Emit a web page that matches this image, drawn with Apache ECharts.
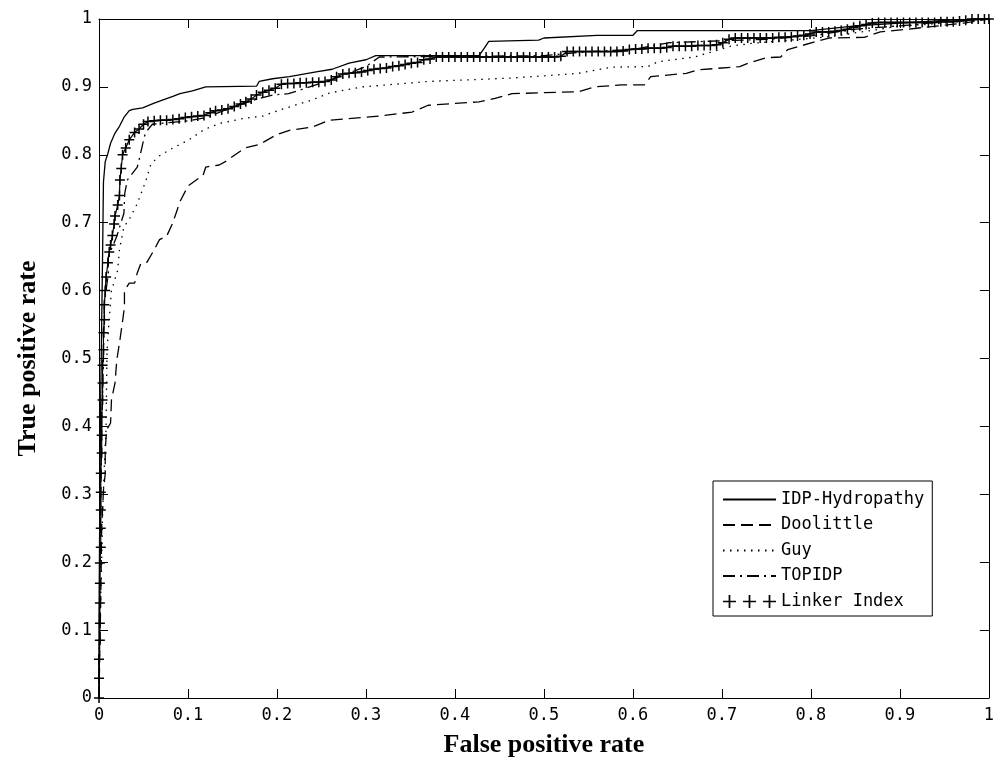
<!DOCTYPE html>
<html>
<head>
<meta charset="utf-8">
<script src="https://cdn.jsdelivr.net/npm/echarts@6/dist/echarts.min.js"></script>
<style>html,body{margin:0;padding:0;background:#fff;}#c{width:997px;height:766px;}</style>
</head>
<body>
<div id="c"></div>
<script>
const xTicks = [0,0.1,0.2,0.3,0.4,0.5,0.6,0.7,0.8,0.9,1];
const yTicks = [0,0.1,0.2,0.3,0.4,0.5,0.6,0.7,0.8,0.9,1];
const seriesNames = ['IDP-Hydropathy','Doolittle','Guy','TOPIDP','Linker Index'];

const idpHydropathy = [[0,0],[0,0.12],[0.001,0.3],[0.002,0.45],[0.003,0.55],[0.004,0.65],[0.005,0.76],[0.007,0.79],[0.01,0.802],[0.013,0.817],[0.018,0.832],[0.023,0.842],[0.028,0.855],[0.034,0.865],[0.038,0.867],[0.049,0.869],[0.062,0.876],[0.072,0.881],[0.083,0.886],[0.091,0.89],[0.105,0.894],[0.12,0.9],[0.177,0.901],[0.18,0.908],[0.195,0.912],[0.214,0.915],[0.244,0.922],[0.262,0.926],[0.281,0.935],[0.3,0.94],[0.311,0.946],[0.427,0.946],[0.433,0.957],[0.438,0.967],[0.494,0.969],[0.5,0.972],[0.56,0.976],[0.6,0.976],[0.605,0.983],[0.8,0.983],[0.85,0.99],[0.9,0.994],[0.95,0.998],[1,1]];

const doolittle = [[0,0],[0.002,0.15],[0.003,0.25],[0.005,0.306],[0.007,0.33],[0.007,0.365],[0.0086,0.395],[0.013,0.405],[0.014,0.439],[0.018,0.464],[0.02,0.498],[0.0235,0.527],[0.027,0.56],[0.0286,0.576],[0.0286,0.6],[0.034,0.611],[0.04,0.611],[0.043,0.626],[0.047,0.64],[0.054,0.642],[0.062,0.66],[0.068,0.675],[0.076,0.68],[0.083,0.7],[0.091,0.731],[0.1,0.754],[0.117,0.77],[0.12,0.782],[0.135,0.785],[0.142,0.79],[0.164,0.81],[0.18,0.815],[0.2,0.83],[0.214,0.836],[0.24,0.841],[0.259,0.851],[0.315,0.857],[0.352,0.863],[0.37,0.873],[0.427,0.878],[0.445,0.883],[0.464,0.89],[0.539,0.893],[0.557,0.9],[0.587,0.903],[0.613,0.903],[0.62,0.915],[0.66,0.92],[0.673,0.925],[0.72,0.93],[0.73,0.935],[0.75,0.943],[0.766,0.944],[0.774,0.955],[0.82,0.972],[0.86,0.973],[0.878,0.981],[0.916,0.986],[0.972,0.994],[1,1]];

const guy = [[0,0],[0.001,0.1],[0.003,0.2],[0.004,0.27],[0.006,0.34],[0.008,0.4],[0.0086,0.47],[0.009,0.51],[0.011,0.55],[0.014,0.6],[0.021,0.63],[0.023,0.66],[0.028,0.694],[0.034,0.705],[0.043,0.728],[0.053,0.763],[0.058,0.785],[0.066,0.797],[0.083,0.81],[0.101,0.822],[0.118,0.837],[0.135,0.846],[0.164,0.854],[0.184,0.857],[0.203,0.866],[0.24,0.881],[0.259,0.891],[0.296,0.9],[0.37,0.908],[0.464,0.913],[0.539,0.92],[0.576,0.929],[0.617,0.93],[0.628,0.937],[0.669,0.944],[0.71,0.96],[0.733,0.964],[0.822,0.974],[0.897,0.989],[0.97,0.996],[1,1]];

const topidp = [[0,0],[0.001,0.2],[0.003,0.4],[0.005,0.5],[0.006,0.58],[0.0105,0.626],[0.0105,0.65],[0.02,0.68],[0.028,0.714],[0.029,0.744],[0.032,0.763],[0.043,0.782],[0.045,0.792],[0.051,0.827],[0.053,0.834],[0.06,0.845],[0.1,0.85],[0.12,0.855],[0.15,0.87],[0.18,0.883],[0.195,0.888],[0.213,0.89],[0.225,0.895],[0.26,0.91],[0.3,0.93],[0.315,0.944],[0.4,0.945],[0.5,0.946],[0.55,0.952],[0.6,0.955],[0.64,0.965],[0.7,0.968],[0.75,0.97],[0.8,0.975],[0.85,0.985],[0.9,0.99],[0.95,0.996],[1,1]];

const linkerIndex = [[0,0],[0,0.029],[0,0.057],[0.001,0.085],[0.001,0.11],[0.001,0.14],[0.001,0.169],[0.001,0.199],[0.002,0.222],[0.002,0.25],[0.002,0.277],[0.002,0.303],[0.002,0.331],[0.003,0.361],[0.003,0.387],[0.003,0.414],[0.004,0.439],[0.004,0.464],[0.004,0.49],[0.005,0.513],[0.005,0.538],[0.006,0.557],[0.006,0.579],[0.007,0.6],[0.008,0.62],[0.01,0.641],[0.0115,0.657],[0.013,0.667],[0.015,0.681],[0.017,0.698],[0.018,0.71],[0.021,0.726],[0.023,0.74],[0.0235,0.763],[0.025,0.78],[0.0265,0.8],[0.03,0.81],[0.034,0.822],[0.04,0.833],[0.045,0.838],[0.05,0.845],[0.055,0.849],[0.062,0.85],[0.069,0.851],[0.076,0.851],[0.083,0.852],[0.09,0.853],[0.097,0.855],[0.104,0.856],[0.111,0.857],[0.118,0.858],[0.125,0.862],[0.131,0.865],[0.138,0.866],[0.145,0.868],[0.152,0.871],[0.159,0.875],[0.165,0.878],[0.171,0.882],[0.177,0.888],[0.184,0.892],[0.191,0.895],[0.198,0.898],[0.205,0.904],[0.212,0.905],[0.219,0.905],[0.226,0.906],[0.233,0.906],[0.24,0.907],[0.247,0.907],[0.254,0.908],[0.261,0.91],[0.267,0.915],[0.274,0.919],[0.281,0.92],[0.288,0.921],[0.295,0.922],[0.302,0.924],[0.309,0.926],[0.316,0.927],[0.323,0.928],[0.33,0.93],[0.337,0.931],[0.344,0.933],[0.351,0.935],[0.358,0.936],[0.365,0.94],[0.372,0.941],[0.379,0.944],[0.386,0.944],[0.393,0.944],[0.4,0.944],[0.407,0.944],[0.414,0.944],[0.421,0.944],[0.428,0.944],[0.435,0.944],[0.442,0.944],[0.449,0.944],[0.456,0.944],[0.463,0.944],[0.47,0.944],[0.477,0.944],[0.484,0.944],[0.491,0.944],[0.498,0.944],[0.505,0.944],[0.512,0.944],[0.519,0.945],[0.526,0.952],[0.533,0.952],[0.54,0.952],[0.547,0.952],[0.554,0.952],[0.561,0.952],[0.568,0.952],[0.575,0.952],[0.582,0.952],[0.589,0.953],[0.596,0.955],[0.603,0.956],[0.61,0.956],[0.617,0.957],[0.624,0.957],[0.631,0.957],[0.638,0.958],[0.645,0.96],[0.652,0.96],[0.659,0.96],[0.666,0.96],[0.673,0.961],[0.68,0.961],[0.687,0.961],[0.694,0.962],[0.701,0.965],[0.708,0.97],[0.715,0.972],[0.722,0.972],[0.729,0.972],[0.736,0.972],[0.743,0.972],[0.75,0.972],[0.757,0.972],[0.764,0.973],[0.771,0.973],[0.778,0.974],[0.785,0.975],[0.792,0.976],[0.799,0.978],[0.806,0.981],[0.813,0.981],[0.82,0.981],[0.827,0.982],[0.834,0.983],[0.841,0.985],[0.848,0.988],[0.855,0.99],[0.862,0.992],[0.869,0.994],[0.876,0.995],[0.883,0.995],[0.89,0.995],[0.897,0.995],[0.904,0.995],[0.911,0.995],[0.918,0.995],[0.925,0.995],[0.932,0.995],[0.939,0.995],[0.946,0.996],[0.953,0.996],[0.96,0.996],[0.967,0.997],[0.974,0.998],[0.981,1],[0.988,1],[0.995,1],[1,1]];

const MONO = "'DejaVu Sans Mono', 'Liberation Mono', monospace";
const SERIF = "'Liberation Serif', 'DejaVu Serif', serif";
const PLUS = 'path://M-0.15,-1L0.15,-1L0.15,-0.15L1,-0.15L1,0.15L0.15,0.15L0.15,1L-0.15,1L-0.15,0.15L-1,0.15L-1,-0.15L-0.15,-0.15Z';
const PLUS3 = 'path://M5.2,0L6.8,0L6.8,5.2L12,5.2L12,6.8L6.8,6.8L6.8,12L5.2,12L5.2,6.8L0,6.8L0,5.2L5.2,5.2Z' +
  'M23.7,0L25.3,0L25.3,5.2L30.5,5.2L30.5,6.8L25.3,6.8L25.3,12L23.7,12L23.7,6.8L18.5,6.8L18.5,5.2L23.7,5.2Z' +
  'M42.2,0L43.8,0L43.8,5.2L49,5.2L49,6.8L43.8,6.8L43.8,12L42.2,12L42.2,6.8L37,6.8L37,5.2L42.2,5.2Z';

const chart = echarts.init(document.getElementById('c'), null, {renderer: 'canvas'});

function xAx(pos, showLabel) {
  return {
    type: 'value', position: pos, min: xTicks[0], max: xTicks[xTicks.length - 1], interval: 0.1,
    axisLine: {show: true, onZero: false, lineStyle: {color: '#000', width: 1}},
    axisTick: {show: true, inside: true, length: 9, lineStyle: {color: '#000', width: 1}},
    axisLabel: {show: showLabel, color: '#000', fontFamily: MONO, fontSize: 17, margin: 9},
    splitLine: {show: false}
  };
}
function yAx(pos, showLabel) {
  return {
    type: 'value', position: pos, min: yTicks[0], max: yTicks[yTicks.length - 1], interval: 0.1,
    axisLine: {show: true, onZero: false, lineStyle: {color: '#000', width: 1}},
    axisTick: {show: true, inside: true, length: 9, lineStyle: {color: '#000', width: 1}},
    axisLabel: {show: showLabel, color: '#000', fontFamily: MONO, fontSize: 17, margin: 7},
    splitLine: {show: false}
  };
}

const xMain = Object.assign(xAx('bottom', true), {
  name: 'False positive rate', nameLocation: 'middle', nameGap: 34,
  nameTextStyle: {fontFamily: SERIF, fontSize: 26, fontWeight: 'bold', color: '#000'}
});
const yMain = Object.assign(yAx('left', true), {
  name: 'True positive rate', nameLocation: 'middle', nameGap: 58,
  nameTextStyle: {fontFamily: SERIF, fontSize: 26, fontWeight: 'bold', color: '#000'}
});
const xTop = Object.assign(xAx('top', false), {});
const yRight = Object.assign(yAx('right', false), {});

function lineSeries(name, data, type) {
  return {
    name: name, type: 'line', data: data, symbol: 'none', showSymbol: false,
    xAxisIndex: 0, yAxisIndex: 0, clip: true,
    lineStyle: {color: '#000', width: 1.3, type: type},
    itemStyle: {color: '#000'}
  };
}

const hiddenSym = {opacity: 0, color: 'rgba(0,0,0,0)', borderWidth: 0};

chart.setOption({
  animation: false,
  backgroundColor: '#fff',
  grid: {left: 99, right: 5, top: 19, bottom: 68, containLabel: false},
  xAxis: [xMain, xTop],
  yAxis: [yMain, yRight],
  legend: {
    orient: 'vertical', left: 713, top: 481,
    padding: [10, 8, 6, 9], itemGap: 8.5, itemWidth: 53, itemHeight: 14,
    borderColor: '#000', borderWidth: 1, borderRadius: 0, backgroundColor: '#fff',
    textStyle: {fontFamily: MONO, fontSize: 17, color: '#000', lineHeight: 17},
    data: [
      {name: seriesNames[0], itemStyle: hiddenSym},
      {name: seriesNames[1], itemStyle: hiddenSym},
      {name: seriesNames[2], itemStyle: hiddenSym},
      {name: seriesNames[3], itemStyle: hiddenSym},
      {name: seriesNames[4], icon: PLUS3, itemStyle: {color: '#000', opacity: 1}}
    ]
  },
  series: [
    lineSeries(seriesNames[0], idpHydropathy, 'solid'),
    lineSeries(seriesNames[1], doolittle, [12, 6]),
    lineSeries(seriesNames[2], guy, [1.5, 5.5]),
    lineSeries(seriesNames[3], topidp, [12, 5, 2, 5]),
    {
      name: seriesNames[4], type: 'line', data: linkerIndex,
      symbol: PLUS, symbolSize: 10, showSymbol: true, showAllSymbol: true,
      xAxisIndex: 0, yAxisIndex: 0, clip: true, z: 3,
      lineStyle: {color: '#000', width: 1.2},
      itemStyle: {color: '#000'}
    }
  ]
});
</script>
</body>
</html>
